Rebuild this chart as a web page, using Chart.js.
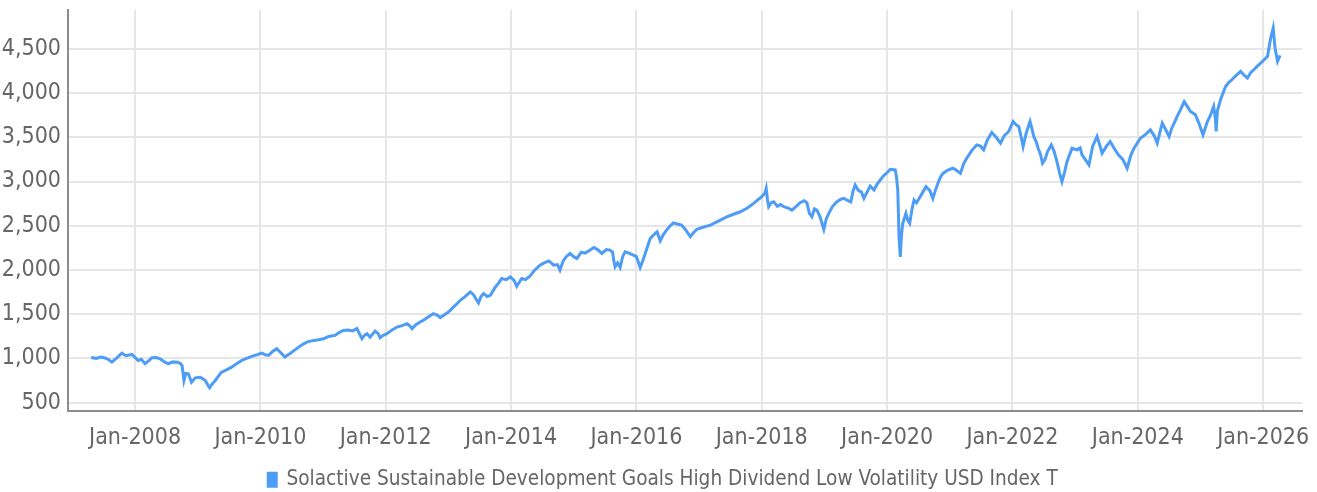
<!DOCTYPE html>
<html>
<head>
<meta charset="utf-8">
<script src="https://cdn.jsdelivr.net/npm/chart.js@4/dist/chart.umd.min.js"></script>
<style>
  html, body { margin: 0; padding: 0; background: #ffffff; }
  #wrap { width: 1317px; height: 492px; }
</style>
</head>
<body>
<div id="wrap"><canvas id="c" width="1317" height="492"></canvas></div>
<script>
// ---- Data ----
const seriesLabel = 'Solactive Sustainable Development Goals High Dividend Low Volatility USD Index T';

// time as decimal years
const years = [
  2007.30, 2007.38, 2007.45, 2007.52, 2007.58, 2007.63, 2007.70, 2007.79, 2007.85, 2007.95,
  2008.05, 2008.10, 2008.16, 2008.22, 2008.27, 2008.34, 2008.40, 2008.47, 2008.53, 2008.60,
  2008.67, 2008.72, 2008.75, 2008.78, 2008.81, 2008.85, 2008.88, 2008.90, 2008.96, 2009.04,
  2009.08, 2009.12, 2009.16, 2009.19, 2009.22, 2009.28, 2009.33, 2009.38, 2009.46, 2009.54,
  2009.62, 2009.70, 2009.78, 2009.86, 2009.94, 2010.02, 2010.08, 2010.13, 2010.20, 2010.26,
  2010.33, 2010.39, 2010.44, 2010.47, 2010.54, 2010.61, 2010.68, 2010.74, 2010.83, 2010.93,
  2011.02, 2011.09, 2011.19, 2011.25, 2011.32, 2011.40, 2011.47, 2011.54, 2011.58, 2011.62,
  2011.66, 2011.70, 2011.75, 2011.83, 2011.88, 2011.91, 2011.96, 2012.02, 2012.10, 2012.18,
  2012.26, 2012.34, 2012.38, 2012.42, 2012.48, 2012.55, 2012.62, 2012.70, 2012.76, 2012.82,
  2012.87, 2012.93, 2013.00, 2013.08, 2013.14, 2013.19, 2013.27, 2013.35, 2013.40, 2013.45,
  2013.48, 2013.52, 2013.56, 2013.62, 2013.67, 2013.75, 2013.80, 2013.85, 2013.92, 2013.99,
  2014.05, 2014.09, 2014.13, 2014.17, 2014.23, 2014.30, 2014.38, 2014.46, 2014.53, 2014.60,
  2014.64, 2014.68, 2014.74, 2014.78, 2014.83, 2014.88, 2014.94, 2015.00, 2015.05, 2015.12,
  2015.18, 2015.25, 2015.32, 2015.38, 2015.45, 2015.52, 2015.58, 2015.62, 2015.64, 2015.66,
  2015.70, 2015.74, 2015.78, 2015.82, 2015.88, 2015.95, 2016.00, 2016.06, 2016.10, 2016.14,
  2016.22, 2016.28, 2016.33, 2016.38, 2016.43, 2016.48, 2016.54, 2016.59, 2016.65, 2016.72,
  2016.79, 2016.86, 2016.91, 2016.96, 2017.05, 2017.18, 2017.30, 2017.44, 2017.55, 2017.66,
  2017.77, 2017.87, 2017.95, 2018.00, 2018.05, 2018.07, 2018.09, 2018.11, 2018.15, 2018.19,
  2018.25, 2018.30, 2018.35, 2018.42, 2018.48, 2018.55, 2018.61, 2018.68, 2018.72, 2018.76,
  2018.80, 2018.84, 2018.88, 2018.93, 2018.99, 2019.03, 2019.07, 2019.13, 2019.20, 2019.26,
  2019.31, 2019.36, 2019.42, 2019.46, 2019.49, 2019.54, 2019.59, 2019.63, 2019.68, 2019.73,
  2019.79, 2019.84, 2019.89, 2019.95, 2020.00, 2020.05, 2020.13, 2020.15, 2020.17, 2020.19,
  2020.21, 2020.23, 2020.25, 2020.30, 2020.33, 2020.36, 2020.40, 2020.43, 2020.47, 2020.51,
  2020.57, 2020.62, 2020.68, 2020.73, 2020.77, 2020.81, 2020.85, 2020.89, 2020.97, 2021.05,
  2021.10, 2021.17, 2021.22, 2021.27, 2021.35, 2021.43, 2021.49, 2021.54, 2021.60, 2021.67,
  2021.74, 2021.81, 2021.87, 2021.94, 2022.01, 2022.06, 2022.10, 2022.14, 2022.17, 2022.22,
  2022.28, 2022.31, 2022.34, 2022.38, 2022.41, 2022.45, 2022.48, 2022.52, 2022.56, 2022.62,
  2022.66, 2022.71, 2022.75, 2022.79, 2022.83, 2022.87, 2022.91, 2022.95, 2023.03, 2023.08,
  2023.11, 2023.16, 2023.22, 2023.28, 2023.35, 2023.39, 2023.43, 2023.50, 2023.56, 2023.62,
  2023.69, 2023.76, 2023.83, 2023.89, 2023.94, 2024.04, 2024.12, 2024.20, 2024.26, 2024.31,
  2024.35, 2024.39, 2024.45, 2024.50, 2024.54, 2024.58, 2024.63, 2024.68, 2024.74, 2024.79,
  2024.84, 2024.92, 2024.98, 2025.04, 2025.11, 2025.16, 2025.21, 2025.24, 2025.25, 2025.27,
  2025.32, 2025.36, 2025.40, 2025.45, 2025.50, 2025.57, 2025.64, 2025.70, 2025.75, 2025.80,
  2025.85, 2025.90, 2025.96, 2026.02, 2026.07, 2026.12, 2026.16, 2026.19, 2026.23, 2026.27
];

const values = [
  1010, 1000, 1015, 1005, 985, 957, 1000, 1059, 1030, 1044,
  976, 990, 939, 975, 1007, 1010, 995, 960, 939, 960,
  957, 945, 920, 749, 830, 825, 770, 730, 780, 787,
  770, 749, 700, 667, 700, 749, 800, 844, 870, 900,
  940, 976, 1000, 1022, 1040, 1059, 1040, 1033, 1080, 1109,
  1060, 1014, 1040, 1052, 1090, 1127, 1160, 1184, 1200, 1211,
  1225, 1248, 1260, 1290, 1316, 1320, 1310, 1336, 1280, 1222,
  1260, 1279, 1240, 1309, 1280, 1234, 1260, 1279, 1320, 1354,
  1370, 1392, 1370, 1336, 1380, 1411, 1440, 1480, 1506, 1490,
  1461, 1490, 1524, 1580, 1620, 1657, 1700, 1751, 1720, 1660,
  1626, 1700, 1733, 1700, 1713, 1808, 1850, 1903, 1890, 1921,
  1880, 1815, 1860, 1903, 1890, 1929, 2000, 2054, 2080, 2102,
  2080, 2054, 2060, 1997, 2100, 2150, 2186, 2150, 2130, 2200,
  2190, 2220, 2254, 2230, 2186, 2230, 2224, 2200, 2100, 2035,
  2080, 2028, 2150, 2204, 2190, 2167, 2150, 2028, 2100, 2186,
  2356, 2400, 2431, 2329, 2400, 2450, 2500, 2533, 2520, 2507,
  2450, 2375, 2420, 2458, 2480, 2507, 2550, 2601, 2630, 2658,
  2700, 2753, 2800, 2828, 2870, 2923, 2800, 2715, 2760, 2771,
  2720, 2740, 2715, 2700, 2677, 2720, 2760, 2783, 2760, 2640,
  2601, 2690, 2677, 2600, 2458, 2580, 2640, 2720, 2771, 2800,
  2809, 2790, 2771, 2900, 2961, 2900, 2880, 2809, 2880, 2949,
  2904, 2970, 3017, 3070, 3100, 3139, 3131, 3050, 2904, 2375,
  2148, 2400, 2526, 2640, 2560, 2526, 2700, 2790, 2760, 2809,
  2880, 2941, 2900, 2809, 2900, 2979, 3050, 3092, 3130, 3150,
  3130, 3092, 3200, 3264, 3350, 3414, 3400, 3358, 3470, 3554,
  3500, 3433, 3520, 3566, 3679, 3640, 3622, 3500, 3395, 3550,
  3679, 3600, 3509, 3450, 3377, 3300, 3207, 3250, 3339, 3414,
  3350, 3225, 3100, 2998, 3100, 3225, 3300, 3377, 3358, 3380,
  3301, 3250, 3188, 3400, 3509, 3420, 3320, 3400, 3452, 3380,
  3301, 3250, 3150, 3300, 3377, 3490, 3530, 3584, 3520, 3433,
  3550, 3660, 3580, 3509, 3600, 3660, 3740, 3811, 3905, 3850,
  3792, 3754, 3650, 3528, 3679, 3750, 3849, 3700, 3566, 3800,
  3924, 4000, 4075, 4120, 4151, 4200, 4245, 4200, 4170, 4230,
  4264, 4300, 4339, 4380, 4415, 4623, 4736, 4510, 4359, 4427
];

const xTickYears = [2008, 2010, 2012, 2014, 2016, 2018, 2020, 2022, 2024, 2026];
const yTickValues = [500, 1000, 1500, 2000, 2500, 3000, 3500, 4000, 4500];

// ---- Chart ----
const FONT = "'Liberation Sans Narrow', 'Arial Narrow', 'DejaVu Sans Condensed', sans-serif";
const TEXT = '#666666';
const GRID = '#e6e6e6';
const AXIS = '#8c8c8c';
const LINE = '#4d9cf6';

const points = years.map((t, i) => ({ x: t, y: values[i] }));

// nudges the (single-line) legend a little to the right, like the reference
const legendShift = {
  id: 'legendShift',
  afterLayout(chart) {
    if (chart.legend) { chart.legend.left += 24; }
  }
};

new Chart(document.getElementById('c'), {
  type: 'line',
  data: {
    datasets: [{
      label: seriesLabel,
      data: points,
      borderColor: LINE,
      backgroundColor: LINE,
      borderWidth: 3,
      pointRadius: 0,
      tension: 0,
      fill: false
    }]
  },
  plugins: [legendShift],
  options: {
    responsive: false,
    animation: false,
    devicePixelRatio: 1,
    layout: { padding: { left: 0, right: 15, top: 10, bottom: -8 } },
    plugins: {
      tooltip: { enabled: false },
      legend: {
        position: 'bottom',
        labels: {
          color: TEXT,
          font: { family: FONT, size: 20.6 },
          boxWidth: 8,
          boxHeight: 13,
          padding: 8
        }
      }
    },
    scales: {
      x: {
        type: 'linear',
        min: 2006.93,
        max: 2026.62,
        afterBuildTicks: (s) => { s.ticks = xTickYears.map(v => ({ value: v })); },
        afterFit: (s) => { s.paddingLeft = 0; s.paddingRight = 0; s.height = 50; },
        ticks: {
          color: TEXT,
          font: { family: FONT, size: 23 },
          padding: 13,
          autoSkip: false,
          maxRotation: 0,
          callback: (v) => 'Jan-' + v
        },
        grid: { color: GRID, lineWidth: 2, drawTicks: false },
        border: { color: AXIS, width: 2 }
      },
      y: {
        min: 400,
        max: 4940,
        afterBuildTicks: (s) => { s.ticks = yTickValues.map(v => ({ value: v })); },
        afterFit: (s) => { s.width = 68; s.paddingTop = 0; s.paddingBottom = 0; },
        ticks: {
          color: TEXT,
          font: { family: FONT, size: 23 },
          padding: 7,
          callback: (v) => v.toLocaleString('en-US')
        },
        grid: { color: GRID, lineWidth: 2, drawTicks: false },
        border: { color: AXIS, width: 2 }
      }
    }
  }
});
</script>
</body>
</html>
